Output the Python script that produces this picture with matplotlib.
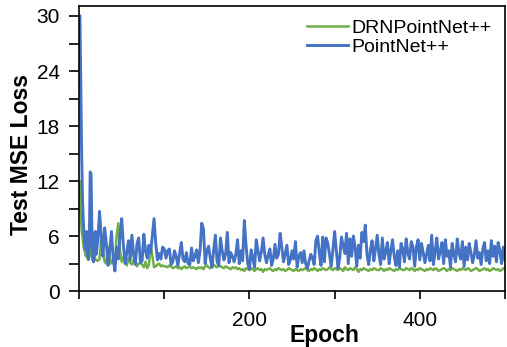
import numpy as np
import matplotlib
matplotlib.use("Agg")
import matplotlib.pyplot as plt
from matplotlib.ticker import MultipleLocator, FixedLocator

plt.rcParams['font.family'] = ['Liberation Sans', 'DejaVu Sans']

# epochs: every epoch for the first 20, then every 2nd epoch
epochs = np.concatenate([np.arange(1, 21), np.arange(22, 501, 2)])

pointnet_loss = [
    30, 22, 15, 10, 7.5, 6, 5, 4.5, 6.5, 4, 3.5, 5, 13, 12.8, 7, 4, 3.2, 5, 6.5, 4,
    5.5, 8.7, 6.0, 3.8, 6.9, 5.2, 2.8, 4.5, 6.5, 3.6, 2.2, 4.8, 3.5, 6.0, 7.9, 5.0, 3.0, 4.2, 5.5, 3.4,
    6.1, 4.0, 2.9, 5.2, 5.8, 3.1, 3.3, 6.2, 4.4, 3.6, 5.0, 4.2, 6.0, 7.9, 5.2, 3.4, 4.1, 3.5, 4.8, 4.6,
    3.6, 4.4, 4.6, 2.9, 3.2, 4.4, 3.8, 2.8, 4.1, 5.3, 3.5, 3.2, 4.2, 3.0, 2.9, 4.7, 3.3, 3.8, 4.5, 3.1,
    4.4, 7.4, 6.8, 3.0, 4.4, 4.9, 3.6, 2.6, 4.5, 6.1, 3.2, 2.8, 5.8, 4.4, 3.4, 4.0, 6.4, 3.1, 4.2, 3.8,
    3.2, 4.0, 5.6, 3.0, 4.4, 3.3, 7.7, 5.0, 3.0, 2.4, 4.5, 3.6, 2.6, 5.6, 4.4, 3.3, 4.3, 5.8, 4.0, 3.1,
    3.9, 4.6, 2.8, 3.5, 5.1, 3.6, 4.0, 6.3, 4.8, 3.2, 4.1, 5.0, 2.9, 3.4, 4.4, 3.5, 5.4, 2.6, 3.8, 4.2,
    3.1, 4.4, 3.0, 2.5, 3.3, 4.0, 3.6, 2.9, 5.5, 6.0, 4.2, 2.8, 5.9, 3.2, 5.8, 5.2, 4.0, 2.7, 4.5, 6.5,
    4.4, 2.5, 3.6, 5.9, 5.0, 4.1, 6.3, 3.0, 5.7, 3.8, 6.0, 4.8, 2.7, 5.0, 3.6, 6.4, 5.4, 7.2, 4.0, 2.9,
    4.5, 5.5, 3.3, 4.6, 6.1, 4.0, 2.9, 5.8, 3.5, 4.3, 5.3, 3.0, 4.4, 5.6, 3.8, 2.8, 4.4, 2.6, 5.2, 4.6,
    3.2, 5.7, 4.1, 3.5, 5.4, 4.8, 2.7, 4.8, 5.6, 3.4, 5.2, 4.2, 3.1, 4.0, 5.0, 3.3, 6.1, 2.9, 4.3, 5.8,
    3.5, 4.3, 5.3, 3.0, 5.6, 3.8, 4.4, 2.6, 5.2, 4.0, 3.2, 5.7, 4.1, 3.5, 5.4, 2.7, 4.8, 3.4, 5.2, 4.2,
    3.1, 4.0, 5.5, 3.6, 4.2, 2.9, 4.6, 5.3, 3.3, 4.4, 3.0, 5.5, 3.8, 4.9, 3.2, 5.3, 4.4, 3.0, 4.8, 3.4,
]

drn_loss = [
    12, 8.5, 6.5, 6, 5, 4.5, 4.2, 3.8, 4.5, 3.5, 3.4, 4, 5.5, 4.8, 3.6, 3.3, 3.2, 4, 3.5, 3.4,
    3.3, 3.5, 5.8, 4.2, 3.2, 3.0, 4.8, 3.6, 3.0, 3.4, 2.9, 6.0, 7.4, 4.5, 3.2, 3.6, 4.0, 2.8, 3.6, 3.1,
    2.9, 3.4, 3.3, 2.7, 3.0, 3.1, 2.9, 2.6, 3.2, 2.5, 2.9, 4.9, 3.8, 2.6, 2.7, 2.9, 3.0, 2.7, 2.8, 2.7,
    2.7, 2.6, 2.8, 2.7, 2.5, 2.6, 2.7, 2.5, 2.6, 2.4, 2.6, 2.7, 2.5, 2.6, 2.7, 2.5, 2.6, 2.5, 2.4, 2.6,
    2.5, 2.6, 2.4, 2.7, 2.8, 2.6, 2.5, 2.7, 2.9, 2.7, 2.6, 2.8, 2.7, 2.6, 2.5, 2.7, 2.6, 2.5, 2.4, 2.6,
    2.5, 2.6, 2.4, 2.5, 2.3, 2.4, 2.2, 2.5, 2.4, 2.3, 2.5, 2.4, 2.2, 2.4, 2.5, 2.3, 2.4, 2.1, 2.4, 2.3,
    2.4, 2.5, 2.3, 2.2, 2.4, 2.3, 2.5, 2.4, 2.3, 2.4, 2.2, 2.3, 2.5, 2.4, 2.3, 2.2, 2.4, 2.3, 2.2, 2.4,
    2.3, 2.4, 2.5, 2.3, 2.2, 2.4, 2.3, 2.5, 2.4, 2.2, 2.4, 2.3, 2.5, 2.4, 2.3, 2.4, 2.6, 2.4, 2.3, 2.5,
    2.4, 2.3, 2.5, 2.4, 2.2, 2.6, 2.4, 2.3, 2.5, 2.4, 2.3, 2.6, 2.4, 2.1, 2.4, 2.3, 2.5, 2.4, 2.3, 2.2,
    2.4, 2.3, 2.5, 2.4, 2.3, 2.3, 2.5, 2.4, 2.2, 2.4, 2.3, 2.5, 2.4, 2.3, 2.2, 2.4, 2.3, 2.5, 2.4, 2.3,
    2.3, 2.5, 2.4, 2.3, 2.5, 2.4, 2.2, 2.4, 2.3, 2.5, 2.4, 2.3, 2.2, 2.4, 2.3, 2.5, 2.4, 2.3, 2.5, 2.4,
    2.2, 2.3, 2.4, 2.5, 2.4, 2.2, 2.4, 2.3, 2.5, 2.4, 2.3, 2.2, 2.4, 2.3, 2.5, 2.4, 2.3, 2.5, 2.4, 2.2,
    2.3, 2.4, 2.5, 2.4, 2.2, 2.3, 2.4, 2.5, 2.3, 2.4, 2.2, 2.3, 2.5, 2.4, 2.3, 2.4, 2.2, 2.3, 2.5, 2.4,
]

fig = plt.figure(figsize=(5.07, 3.47), dpi=100)
ax = fig.add_axes([0.156, 0.161, 0.84, 0.822])

ax.plot(epochs, drn_loss, color='#70AD47', lw=1.8, label='DRNPointNet++')
ax.plot(epochs, pointnet_loss, color='#4472C4', lw=2.1, label='PointNet++')

ax.set_xlim(0, 500)
ax.set_ylim(0, 31.1)
ax.yaxis.set_major_locator(MultipleLocator(6))
ax.yaxis.set_minor_locator(MultipleLocator(3))
ax.xaxis.set_major_locator(FixedLocator([200, 400]))
ax.xaxis.set_minor_locator(FixedLocator([0, 100, 300, 500]))

ax.tick_params(axis='both', which='both', direction='out', width=1.2, labelsize=15)
ax.tick_params(axis='y', which='both', length=7, pad=7)
ax.tick_params(axis='x', which='both', length=6, pad=8)
for s in ax.spines.values():
    s.set_linewidth(1.2)

ax.set_ylabel('Test MSE Loss', fontsize=16.5, fontweight='bold')
ax.set_xlabel('Epoch', fontsize=16.5, fontweight='bold')
ax.yaxis.set_label_coords(-0.108, 0.479)
ax.xaxis.set_label_coords(0.577, -0.115)

ax.legend(loc='upper right', frameon=False, fontsize=14, handlelength=2.1,
          labelspacing=0.05, handletextpad=0.15, borderaxespad=0.3)

fig.savefig('out.png', dpi=100)
